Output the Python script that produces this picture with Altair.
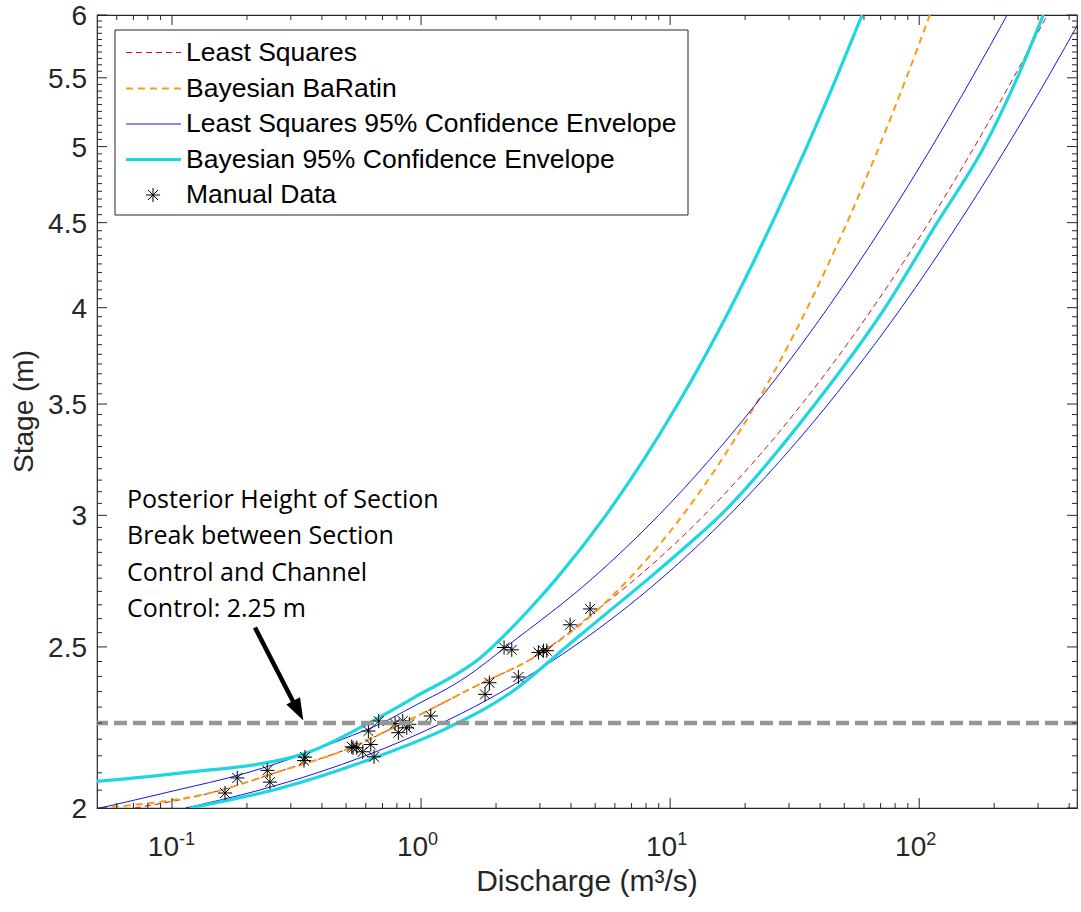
import altair as alt
import pandas as pd

# ---------------- data: discharge Q (m^3/s) against stage h (m) ----------------
# Least-squares rating curve
ls_q = [0.071, 0.1516, 0.2715, 0.5044, 0.929, 1.726, 2.818, 5.235, 7.32, 13.68, 33.8, 65.2, 109.2, 166.8, 239.0, 326.8]
ls_h = [2.0, 2.047, 2.1046, 2.17, 2.2654, 2.375, 2.4624, 2.64, 2.75, 3.0, 3.5, 4.0, 4.5, 5.0, 5.5, 6.0]

# Bayesian (BaRatin) rating curve
bay_q = [0.0513, 0.1516, 0.2715, 0.5044, 0.6845, 0.929, 1.726, 2.818, 5.235, 6.88, 11.23, 22.1, 35.6, 51.3, 69.1, 88.8, 110.3]
bay_h = [2.0, 2.047, 2.1046, 2.17, 2.2156, 2.2654, 2.375, 2.4624, 2.64, 2.75, 3.0, 3.5, 4.0, 4.5, 5.0, 5.5, 6.0]

# Least-squares 95% envelope (upper / lower)
lsu_q = [0.05, 0.1, 0.2, 0.3236, 0.484, 0.697, 0.92, 1.53, 2.19, 4.89, 8.99, 22.1, 43.0, 72.8, 112.5, 163.0, 225.3]
lsu_h = [1.998, 2.047, 2.1, 2.15, 2.2, 2.25, 2.3, 2.4, 2.5, 2.75, 3.0, 3.5, 4.0, 4.5, 5.0, 5.5, 6.0]
lsl_q = [0.1134, 0.224, 0.3833, 0.5977, 0.873, 1.214, 1.627, 2.682, 4.077, 9.26, 17.23, 43.1, 84.8, 144.5, 224.8, 327.8, 455.0]
lsl_h = [2.0, 2.05, 2.1, 2.15, 2.2, 2.25, 2.3, 2.4, 2.5, 2.75, 3.0, 3.5, 4.0, 4.5, 5.0, 5.5, 6.0]

# Bayesian 95% envelope (upper / lower)
bu_q = [0.05, 0.1077, 0.336, 0.607, 0.929, 1.726, 2.923, 3.51, 5.52, 10.74, 17.5, 25.7, 35.4, 46.5, 59.0]
bu_h = [2.075, 2.099, 2.155, 2.247, 2.329, 2.462, 2.665, 2.75, 3.0, 3.5, 4.0, 4.5, 5.0, 5.5, 6.0]
bl_q = [0.1181, 0.2715, 0.6418, 1.272, 2.342, 3.82, 5.235, 8.24, 12.0, 15.9, 38.2, 73.0, 118.1, 182.4, 247.5, 314.8]
bl_h = [2.0, 2.0555, 2.143, 2.2342, 2.352, 2.5, 2.6, 2.75, 2.887, 3.0, 3.5, 4.0, 4.5, 5.0, 5.5, 6.0]

# Manual gaugings
obs_q = [0.1633, 0.1829, 0.2414, 0.2475, 0.3389, 0.342, 0.5268, 0.5332, 0.5518, 0.5833,
         0.6145, 0.6281, 0.6475, 0.6762, 0.7862, 0.8105, 0.8444, 0.8762, 0.8974, 1.094,
         1.807, 1.881, 2.154, 2.313, 2.459, 2.959, 3.099, 3.197, 3.966, 4.771]
obs_h = [2.042, 2.085, 2.107, 2.073, 2.136, 2.146, 2.177, 2.174, 2.174, 2.162,
         2.225, 2.184, 2.147, 2.256, 2.248, 2.22, 2.256, 2.235, 2.246, 2.272,
         2.341, 2.379, 2.498, 2.490, 2.398, 2.481, 2.487, 2.487, 2.578, 2.635]

# Section break and its annotation
break_h = 2.25
note_text = "Posterior Height of Section\nBreak between Section\nControl and Channel\nControl: 2.25 m"
note_q, note_h = 0.066, 3.03
arrow_tail = (0.2154, 2.568)
arrow_neck = (0.31, 2.31)
arrow_tip = (0.3368, 2.258)

# Axis ticks and labels
x_major = [0.1, 1, 10, 100]
x_exponent = ["-1", "0", "1", "2"]
x_minor = [m * d for d in (0.01, 0.1, 1, 10, 100) for m in range(2, 10) if 0.05 < m * d < 430]
y_major = [2, 2.5, 3, 3.5, 4, 4.5, 5, 5.5, 6]
y_labels = ["2", "2.5", "3", "3.5", "4", "4.5", "5", "5.5", "6"]
y_minor = [round(2 + 0.05 * k, 2) for k in range(1, 80) if k % 10 != 0]
x_title = "Discharge (m³/s)"
y_title = "Stage (m)"

legend_labels = ["Least Squares", "Bayesian BaRatin", "Least Squares 95% Confidence Envelope",
                 "Bayesian 95% Confidence Envelope", "Manual Data"]

# ---------------- styling ----------------
W, H = 980, 793
FONT = "Liberation Sans"
INK = "#262626"
RED, ORANGE, BLUE, CYAN, GREY = "#C4161C", "#FF9A0E", "#1414EE", "#1ED6E0", "#969696"
ASTERISK = "M0,-1L0,1M-1,0L1,0M-0.7,-0.7L0.7,0.7M-0.7,0.7L0.7,-0.7"
ARROW_HEAD = "M0,0L-0.7,-2L0.7,-2Z"

XS = alt.Scale(type="log", domain=[0.05, 430], nice=False)
YS = alt.Scale(type="log", domain=[2, 6], nice=False)


def xq(field="q"):
    return alt.X(f"{field}:Q", scale=XS, axis=None)


def yh(field="h"):
    return alt.Y(f"{field}:Q", scale=YS, axis=None)


def curve(q, h, color, width, dash=None):
    df = pd.DataFrame({"q": q, "h": h, "i": list(range(len(q)))})
    kw = dict(color=color, strokeWidth=width, clip=True, interpolate="monotone")
    if dash:
        kw["strokeDash"] = dash
    return alt.Chart(df).mark_line(**kw).encode(x=xq(), y=yh(), order="i:Q")


one = pd.DataFrame({"k": [0]})
layers = []

# tick labels: y values, and x as "10" with a raised exponent
layers.append(alt.Chart(pd.DataFrame({"h": y_major, "t": y_labels})).mark_text(
    font=FONT, fontSize=28, align="right", baseline="middle", dy=2, color=INK).encode(
    x=alt.value(-10), y=yh(), text="t:N"))
xlab = pd.DataFrame({"q": x_major, "e": x_exponent})
layers.append(alt.Chart(xlab).mark_text(
    font=FONT, fontSize=28, align="right", baseline="alphabetic", dx=7, color=INK).encode(
    x=xq(), y=alt.value(H + 48), text=alt.value("10")))
layers.append(alt.Chart(xlab).mark_text(
    font=FONT, fontSize=18, align="left", baseline="alphabetic", dx=7, color=INK).encode(
    x=xq(), y=alt.value(H + 37), text="e:N"))

# axis titles
layers.append(alt.Chart(one).mark_text(
    font=FONT, fontSize=30, align="center", baseline="middle", color=INK).encode(
    x=alt.value(W / 2), y=alt.value(H + 74), text=alt.value(x_title)))
layers.append(alt.Chart(one).mark_text(
    font=FONT, fontSize=28, align="center", baseline="middle", angle=270, color=INK).encode(
    x=alt.value(-72), y=alt.value(H / 2), text=alt.value(y_title)))

layers.append(curve(ls_q, ls_h, RED, 1, [6, 4]))
layers.append(curve(bay_q, bay_h, ORANGE, 2, [7, 5]))
layers.append(curve(lsu_q, lsu_h, BLUE, 1))
layers.append(curve(lsl_q, lsl_h, BLUE, 1))
layers.append(curve(bu_q, bu_h, CYAN, 3.2))
layers.append(curve(bl_q, bl_h, CYAN, 3.2))

layers.append(alt.Chart(pd.DataFrame({"q": obs_q, "h": obs_h})).mark_point(
    shape=ASTERISK, size=200, filled=False, color="black", strokeWidth=1, opacity=1, clip=True
).encode(x=xq(), y=yh()))

# section break line
layers.append(alt.Chart(pd.DataFrame({"h": [break_h]})).mark_rule(
    color=GREY, strokeWidth=4.5, strokeDash=[13, 6]).encode(y=yh()))

# annotation arrow and text
layers.append(alt.Chart(pd.DataFrame({"q": [arrow_tail[0]], "h": [arrow_tail[1]],
                                      "q2": [arrow_neck[0]], "h2": [arrow_neck[1]]})).mark_rule(
    color="black", strokeWidth=4.5).encode(x=xq(), y=yh(), x2="q2:Q", y2="h2:Q"))
layers.append(alt.Chart(pd.DataFrame({"q": [arrow_tip[0]], "h": [arrow_tip[1]]})).mark_point(
    shape=ARROW_HEAD, size=484, angle=332.5, filled=True, color="black", opacity=1).encode(x=xq(), y=yh()))
layers.append(alt.Chart(pd.DataFrame({"q": [note_q], "h": [note_h], "t": [note_text]})).mark_text(
    font="Open Sans", fontSize=25, align="left", baseline="alphabetic", lineBreak="\n",
    lineHeight=36.3, color="black").encode(x=xq(), y=yh(), text="t:N"))


# inward tick marks on all four sides
def xticks(vals, length):
    df = pd.DataFrame({"q": vals})
    bottom = alt.Chart(df).mark_rule(color=INK, strokeWidth=1).encode(
        x=xq(), y=alt.value(H), y2=alt.value(H - length))
    top = alt.Chart(df).mark_rule(color=INK, strokeWidth=1).encode(
        x=xq(), y=alt.value(0), y2=alt.value(length))
    return [bottom, top]


def yticks(vals, length):
    df = pd.DataFrame({"h": vals})
    left = alt.Chart(df).mark_rule(color=INK, strokeWidth=1).encode(
        y=yh(), x=alt.value(0), x2=alt.value(length))
    right = alt.Chart(df).mark_rule(color=INK, strokeWidth=1).encode(
        y=yh(), x=alt.value(W), x2=alt.value(W - length))
    return [left, right]


layers += xticks(x_major, 10) + xticks(x_minor, 5) + yticks(y_major, 10) + yticks(y_minor, 5)

# legend box
layers.append(alt.Chart(one).mark_rect(fill="white", stroke=INK, strokeWidth=1).encode(
    x=alt.value(18), x2=alt.value(591), y=alt.value(15), y2=alt.value(200)))
rows = [37.5, 73.5, 109, 144.5, 180]
layers.append(alt.Chart(one).mark_rule(color=RED, strokeWidth=1, strokeDash=[6, 4]).encode(
    x=alt.value(29), x2=alt.value(84), y=alt.value(rows[0])))
layers.append(alt.Chart(one).mark_rule(color=ORANGE, strokeWidth=2, strokeDash=[7, 5]).encode(
    x=alt.value(29), x2=alt.value(84), y=alt.value(rows[1])))
layers.append(alt.Chart(one).mark_rule(color=BLUE, strokeWidth=1).encode(
    x=alt.value(29), x2=alt.value(84), y=alt.value(rows[2])))
layers.append(alt.Chart(one).mark_rule(color=CYAN, strokeWidth=3.2).encode(
    x=alt.value(29), x2=alt.value(84), y=alt.value(rows[3])))
layers.append(alt.Chart(one).mark_point(shape=ASTERISK, size=200, filled=False, color="black",
                                        strokeWidth=1, opacity=1).encode(
    x=alt.value(56), y=alt.value(rows[4])))
for label, row in zip(legend_labels, rows):
    layers.append(alt.Chart(one).mark_text(
        font=FONT, fontSize=26.5, align="left", baseline="middle", color="black").encode(
        x=alt.value(89), y=alt.value(row), text=alt.value(label)))

chart = alt.layer(*layers).properties(
    width=W, height=H,
    autosize=alt.AutoSizeParams(type="none"),
    padding={"left": 97, "top": 15, "right": 4, "bottom": 104},
    background="white",
).configure_view(stroke=INK, strokeWidth=1.2)

chart.save("out.html", embed_options={"renderer": "svg", "actions": False})
